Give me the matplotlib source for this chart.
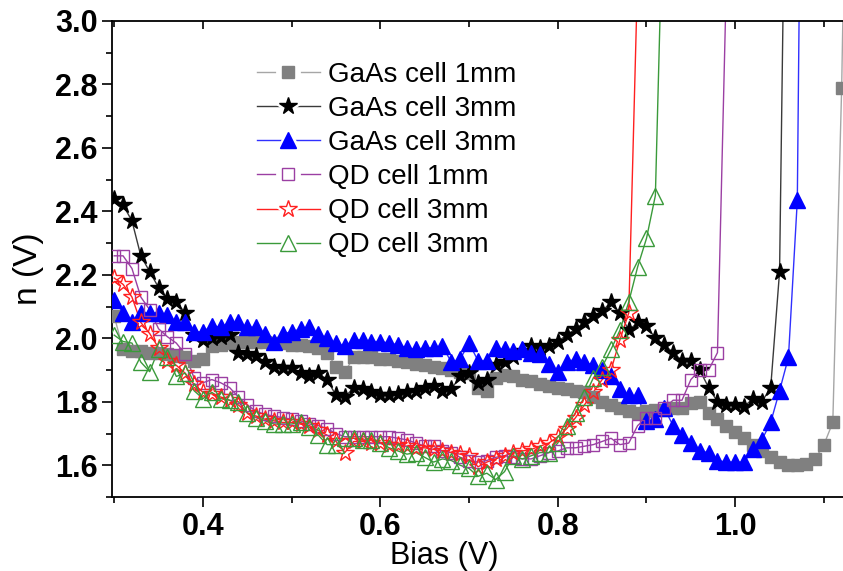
import numpy as np
import matplotlib
matplotlib.use("Agg")
import matplotlib.pyplot as plt
from matplotlib.lines import Line2D
from matplotlib.legend_handler import HandlerTuple
from matplotlib.ticker import MultipleLocator

# ---------------- data ----------------
bias_start = 0.30
bias_step = 0.01

gaas_1mm = [2.07, 1.965, 1.96, 1.96, 1.955, 1.955, 1.95, 1.945, 1.94, 1.93,
            1.935, 1.975, 1.98, 1.985, 1.99, 1.99, 1.99, 1.99, 1.985, 1.985,
            1.98, 1.98, 1.975, 1.97, 1.955, 1.91, 1.895, 1.94, 1.94, 1.94,
            1.935, 1.935, 1.93, 1.925, 1.92, 1.915, 1.91, 1.905, 1.90, 1.895,
            1.89, 1.845, 1.835, 1.875, 1.885, 1.88, 1.87, 1.865, 1.855, 1.85,
            1.845, 1.84, 1.835, 1.83, 1.815, 1.80, 1.79, 1.78, 1.77, 1.765,
            1.77, 1.775, 1.775, 1.78, 1.78, 1.795, 1.80, 1.765, 1.745, 1.725,
            1.705, 1.685, 1.665, 1.645, 1.625, 1.61, 1.60, 1.60, 1.605, 1.62,
            1.665, 1.735, 2.79]
gaas_1mm_tail = ([1.125], [3.6])

gaas_3mm_a = [2.44, 2.42, 2.37, 2.26, 2.21, 2.16, 2.125, 2.115, 2.08, 2.01,
              1.995, 2.0, 2.005, 2.01, 1.955, 1.95, 1.945, 1.925, 1.91, 1.905,
              1.905, 1.89, 1.88, 1.89, 1.87, 1.82, 1.815, 1.845, 1.84, 1.83,
              1.82, 1.82, 1.825, 1.83, 1.835, 1.845, 1.85, 1.835, 1.84, 1.88,
              1.89, 1.86, 1.87, 1.915, 1.925, 1.94, 1.96, 1.975, 1.97, 1.975,
              1.99, 2.01, 2.03, 2.05, 2.07, 2.085, 2.115, 2.08, 2.025, 2.05,
              2.04, 2.0, 1.98, 1.955, 1.93, 1.93, 1.90, 1.845, 1.80, 1.79,
              1.79, 1.785, 1.81, 1.80, 1.845, 2.21]
gaas_3mm_a_tail = ([1.06], [4.3])

gaas_3mm_b = [2.12, 2.08, 2.05, 2.08, 2.08, 2.08, 2.075, 2.05, 2.05, 2.02,
              2.02, 2.04, 2.035, 2.05, 2.05, 2.035, 2.035, 2.015, 1.99, 2.015,
              2.02, 2.03, 2.035, 2.015, 2.0, 1.985, 1.975, 1.995, 1.995, 1.99,
              1.99, 1.985, 1.98, 1.97, 1.965, 1.97, 1.97, 1.975, 1.925, 1.935,
              1.985, 1.93, 1.93, 1.97, 1.965, 1.96, 1.965, 1.955, 1.95, 1.92,
              1.895, 1.925, 1.935, 1.925, 1.915, 1.90, 1.88, 1.84, 1.82, 1.82,
              1.74, 1.745, 1.78, 1.725, 1.695, 1.67, 1.645, 1.64, 1.615, 1.61,
              1.61, 1.61, 1.65, 1.68, 1.735, 1.835, 1.94, 2.435]
gaas_3mm_b_tail = ([1.073], [3.3])

qd_1mm = [2.26, 2.26, 2.22, 2.13, 2.09, 2.03, 2.005, 1.985, 1.95, 1.875,
          1.86, 1.87, 1.86, 1.845, 1.815, 1.79, 1.77, 1.76, 1.755, 1.75,
          1.745, 1.74, 1.73, 1.725, 1.715, 1.70, 1.69, 1.69, 1.69, 1.69,
          1.69, 1.69, 1.685, 1.68, 1.67, 1.66, 1.66, 1.645, 1.64, 1.625,
          1.615, 1.61, 1.615, 1.625, 1.63, 1.625, 1.62, 1.62, 1.63, 1.64,
          1.645, 1.655, 1.655, 1.66, 1.665, 1.675, 1.685, 1.665, 1.67, 1.725,
          1.75, 1.75, 1.78, 1.805, 1.805, 1.87, 1.90, 1.90, 1.955]
qd_1mm_tail = ([0.9915], [3.3])

qd_3mm_a = [2.19, 2.17, 2.13, 2.05, 2.015, 1.97, 1.93, 1.915, 1.89, 1.855,
            1.83, 1.825, 1.815, 1.805, 1.79, 1.765, 1.755, 1.745, 1.74, 1.735,
            1.735, 1.73, 1.725, 1.71, 1.695, 1.675, 1.64, 1.675, 1.675, 1.67,
            1.67, 1.665, 1.665, 1.66, 1.655, 1.655, 1.65, 1.645, 1.64, 1.635,
            1.63, 1.595, 1.61, 1.62, 1.63, 1.64, 1.645, 1.65, 1.66, 1.67,
            1.69, 1.715, 1.75, 1.79, 1.83, 1.87, 1.90, 1.995, 2.08]
qd_3mm_a_tail = ([0.8905], [3.2])

qd_3mm_b = [2.01, 1.99, 1.985, 1.925, 1.895, 1.965, 1.94, 1.88, 1.89, 1.835,
            1.81, 1.83, 1.81, 1.805, 1.80, 1.765, 1.75, 1.74, 1.73, 1.73,
            1.73, 1.735, 1.72, 1.695, 1.665, 1.665, 1.685, 1.685, 1.68, 1.68,
            1.67, 1.655, 1.645, 1.635, 1.64, 1.625, 1.61, 1.62, 1.615, 1.60,
            1.59, 1.565, 1.575, 1.555, 1.58, 1.63, 1.62, 1.63, 1.64, 1.64,
            1.67, 1.725, 1.765, 1.815, 1.875, 1.91, 1.965, 2.025, 2.115, 2.225,
            2.315, 2.45]
qd_3mm_b_tail = ([0.917], [3.2])

labels = ["GaAs cell 1mm", "GaAs cell 3mm", "GaAs cell 3mm",
          "QD cell 1mm", "QD cell 3mm", "QD cell 3mm"]

x_ticks = [0.4, 0.6, 0.8, 1.0]
y_ticks = [1.6, 1.8, 2.0, 2.2, 2.4, 2.6, 2.8, 3.0]

# ---------------- styles ----------------
styles = [
    dict(lc="#a6a6a6", m="s", ms=8.5, mfc="#808080", mec="#808080"),
    dict(lc="#3a3a3a", m="*", ms=13, mfc="#000000", mec="#000000"),
    dict(lc="#3030ff", m="^", ms=11, mfc="#0000ff", mec="#0000ff"),
    dict(lc="#9b3fa3", m="s", ms=8.5, mfc="none", mec="#9b3fa3"),
    dict(lc="#ff2020", m="*", ms=13, mfc="none", mec="#ff2020"),
    dict(lc="#3a9a3a", m="^", ms=11, mfc="none", mec="#3a9a3a"),
]
series = [(gaas_1mm, gaas_1mm_tail), (gaas_3mm_a, gaas_3mm_a_tail),
          (gaas_3mm_b, gaas_3mm_b_tail), (qd_1mm, qd_1mm_tail),
          (qd_3mm_a, qd_3mm_a_tail), (qd_3mm_b, qd_3mm_b_tail)]

narrow = ["Liberation Sans Narrow", "Liberation Sans", "DejaVu Sans"]
regular = ["Liberation Sans", "DejaVu Sans"]

W, H = 843, 571
fig = plt.figure(figsize=(W / 100, H / 100), dpi=100)
ax = fig.add_axes([112 / W, (H - 497) / H, 731 / W, 476 / H])

for (yv, tail), st in zip(series, styles):
    xv = np.round(bias_start + bias_step * np.arange(len(yv)), 3)
    ax.plot(list(xv) + tail[0], list(yv) + tail[1], color=st["lc"], lw=1.0, zorder=2)
    ax.plot(xv, yv, ls="none", marker=st["m"], ms=st["ms"], mfc=st["mfc"],
            mec=st["mec"], mew=1.0, zorder=3)

ax.set_xlim(0.2975, 1.1215)
ax.set_ylim(1.5, 3.0)
ax.set_xticks(x_ticks)
ax.set_yticks(y_ticks)
ax.xaxis.set_minor_locator(MultipleLocator(0.1))
ax.yaxis.set_minor_locator(MultipleLocator(0.1))
ax.set_xticklabels([f"{v:.1f}" for v in x_ticks])
ax.set_yticklabels([f"{v:.1f}" for v in y_ticks])

for sp in ax.spines.values():
    sp.set_linewidth(1.3)
ax.spines["right"].set_visible(False)

ax.tick_params(axis="both", which="both", direction="out", width=1.2)
ax.tick_params(axis="both", which="major", length=7, labelsize=22, pad=3.5)
ax.tick_params(axis="both", which="minor", length=4)
ax.tick_params(axis="x", which="both", top=False)
for lab in ax.get_xticklabels() + ax.get_yticklabels():
    lab.set_fontfamily(narrow)
    lab.set_fontweight("bold")

# top ticks inward
sec = ax.secondary_xaxis("top")
sec.set_xticks(x_ticks)
sec.xaxis.set_minor_locator(MultipleLocator(0.1))
sec.tick_params(axis="x", which="major", direction="in", length=6, width=1.2, labeltop=False)
sec.tick_params(axis="x", which="minor", direction="in", length=4, width=1.2)
sec.spines["top"].set_visible(False)

ax.set_xlabel("Bias (V)", fontsize=22, fontfamily=narrow)
ax.xaxis.set_label_coords(0.455, -0.092)
ax.set_ylabel("n (V)", fontsize=24, fontfamily=regular)
ax.yaxis.set_label_coords(-0.093, 0.48)

handles = []
for st in styles:
    line = Line2D([], [], color=st["lc"], lw=1.0)
    halo = Line2D([], [], ls="none", marker=st["m"], ms=st["ms"] + 7,
                  mfc="white", mec="white", mew=2.0)
    mark = Line2D([], [], ls="none", marker=st["m"], ms=st["ms"],
                  mfc=st["mfc"] if st["mfc"] != "none" else "white", mec=st["mec"], mew=1.0)
    handles.append((line, halo, mark))

leg = ax.legend(handles, labels, handler_map={tuple: HandlerTuple(ndivide=1, pad=0)},
                loc="upper left", bbox_to_anchor=(257 / W, 1 - 62 / H),
                bbox_transform=fig.transFigure, frameon=False,
                prop=dict(family=regular, size=20), handlelength=2.25,
                handletextpad=0.3, labelspacing=0.29, borderpad=0.0,
                borderaxespad=0.0)

fig.savefig("out.png", dpi=100)
